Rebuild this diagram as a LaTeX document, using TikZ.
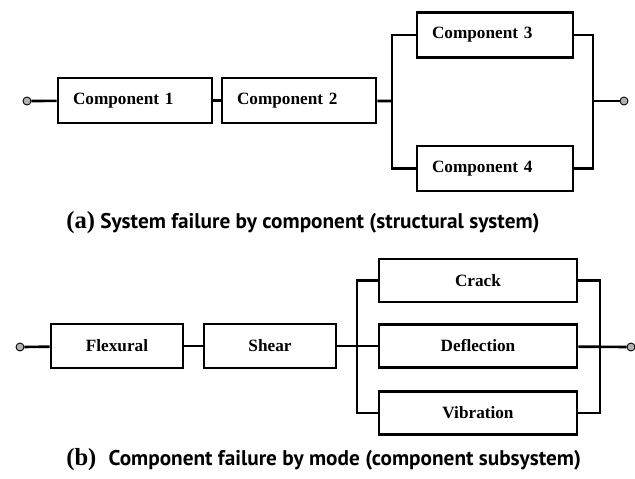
\documentclass[tikz,border=0pt]{standalone}
\usepackage{fontspec}
\setmainfont{Liberation Serif}
\newfontfamily\capsans{PT Sans}
\usetikzlibrary{positioning}

\begin{document}
\begin{tikzpicture}[x=0.02cm, y=-0.02cm, line width=1.5pt,
  every node/.style={font=\fontsize{9.8}{11}\selectfont\bfseries},
  box/.style={draw, line width=1.5pt, minimum height=0.9cm, inner sep=0pt},
  leftbox/.style={box, align=left, inner xsep=0.3cm},
  term/.style={circle, draw, fill=gray!60, line width=0.5pt,
               inner sep=0pt, minimum size=0.16cm},
  caption/.style={anchor=base west, inner sep=0pt}]
  \useasboundingbox (0,0) rectangle (635,478);
  % (a) system failure by component
  \node[term] (ina) at (27,101) {};
  \node[leftbox, text width=2.48cm] (c1) at (135,100.5) {Component 1};
  \node[leftbox, text width=2.48cm] (c2) at (299,100.5) {Component 2};
  \node[leftbox, text width=2.52cm] (c3) at (495,35) {Component 3};
  \node[leftbox, text width=2.52cm] (c4) at (495,168.5) {Component 4};
  \node[term] (outa) at (624,101) {};
  \coordinate (ja) at (392,101);
  \coordinate (ka) at (593,101);
  \draw (ina) -- (c1);
  \draw (c1) -- (c2);
  \draw (c2) -- (ja);
  \draw (c3.west) -- (ja |- c3) -- (ja |- c4) -- (c4.west);
  \draw (c3.east) -- (ka |- c3) -- (ka |- c4) -- (c4.east);
  \draw (ka) -- (outa);
  \node[caption] (capa) at (65,228)
    {{\fontsize{14}{16}\selectfont(a)}\hspace{3pt}{\capsans\fontsize{12.1}{14}\selectfont System failure by component (structural system)}};
  % (b) component failure by mode
  \node[term] (inb) at (20,347) {};
  \node[box, minimum width=2.64cm, minimum height=0.88cm] (fl) at (117,346) {Flexural};
  \node[box, minimum width=2.64cm, minimum height=0.88cm] (sh) at (270,346) {Shear};
  \node[box, minimum width=3.96cm, minimum height=0.86cm] (cr) at (478,280.5) {Crack};
  \node[box, minimum width=3.96cm, minimum height=0.86cm] (de) at (478,346) {Deflection};
  \node[box, minimum width=3.96cm, minimum height=0.86cm] (vi) at (478,413) {Vibration};
  \node[term] (outb) at (631,347) {};
  \coordinate (jb) at (357,346);
  \coordinate (kb) at (600,346);
  \draw (inb) -- (fl);
  \draw (fl) -- (sh);
  \draw (sh) -- (de);
  \draw (cr.west) -- (jb |- cr) -- (jb |- vi) -- (vi.west);
  \draw (cr.east) -- (kb |- cr) -- (kb |- vi) -- (vi.east);
  \draw (de) -- (outb);
  \node[caption] (capb) at (65,465)
    {{\fontsize{14}{16}\selectfont(b)}\hspace{7pt}{\capsans\fontsize{12.1}{14}\selectfont Component failure by mode (component subsystem)}};
\end{tikzpicture}
\end{document}
